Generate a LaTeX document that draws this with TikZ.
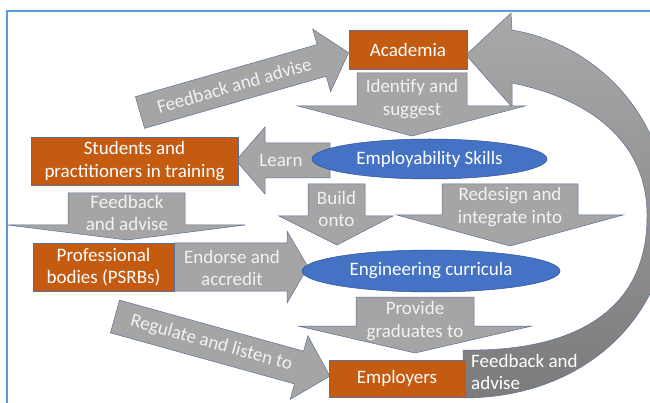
\documentclass[tikz,border=0pt]{standalone}
\usepackage{fontspec}
\setmainfont{Carlito}
\usetikzlibrary{shapes.geometric}
\definecolor{orangebox}{HTML}{C55A11}
\definecolor{arrowgray}{HTML}{A5A5A5}
\definecolor{edgeblue}{HTML}{5A7096}
\definecolor{ellblue}{HTML}{4472C4}
\definecolor{elledge}{HTML}{2F528F}
\definecolor{frameblue}{HTML}{5B9BD5}
\definecolor{txtwhite}{HTML}{F2F2F2}
\definecolor{bigtop}{HTML}{A9A9A9}
\definecolor{bigmid}{HTML}{A0A0A0}
\definecolor{bigbot}{HTML}{7B7B7B}
\begin{document}
\begin{tikzpicture}[x=1pt,y=-1pt,
  garrow/.style={fill=arrowgray, draw=edgeblue, line width=0.5pt, line join=miter},
  obox/.style={rectangle, fill=orangebox, draw=edgeblue, line width=0.5pt, text=white, font=\fontsize{19}{22.5}\selectfont, align=center, inner sep=0pt},
  bell/.style={ellipse, fill=ellblue, draw=elledge, line width=0.5pt, text=white, font=\fontsize{19}{22.5}\selectfont, inner sep=0pt},
  lbl/.style={text=txtwhite, font=\fontsize{19}{22.5}\selectfont, align=center, inner sep=0pt}]
\useasboundingbox (0,0) rectangle (650,403);
\begin{scope}
\clip (0,0) rectangle (650,403);
% frame
\draw[frameblue, line width=1.3pt] (7,404) -- (7,11) -- (651,11);
% big curved arrow (Employers -> Academia)
\path[draw=edgeblue, line width=0.5pt, top color=bigtop, middle color=bigmid, bottom color=bigbot]
  (512,30) -- (511,13) -- (466,55) -- (512,107) -- (512,83)
  .. controls (595,100) and (647,145) .. (647,215)
  .. controls (648,320) and (560,352) .. (463,350)
  -- (463,398)
  .. controls (590,398) and (670,310) .. (668,215)
  .. controls (668,120) and (600,45) .. (512,30) -- cycle;
% upper rotated arrow: Feedback and advise
\begin{scope}[shift={(140,112.5)}, rotate=16]
  \draw[garrow] (0,-16.5) -- (189,-16.5) -- (189,-32.5) -- (217,0) -- (189,32.5) -- (189,16.5) -- (0,16.5) -- cycle;
  \node[lbl, rotate=16] (tfbup) at (98,0) {Feedback and advise};
\end{scope}
% Identify and suggest
\draw[garrow] (357,73) -- (467,73) -- (467,106) -- (525,106) -- (412,136) -- (298,106) -- (357,106) -- cycle;
% Learn
\draw[garrow] (330,143) -- (265,143) -- (265,127) -- (236,160.5) -- (265,194) -- (265,178) -- (330,178) -- cycle;
% Feedback and advise (down)
\draw[garrow] (68,193) -- (185,193) -- (185,225) -- (245,225) -- (127,240) -- (8,225) -- (68,225) -- cycle;
% Build onto
\draw[garrow] (308,184) -- (365,184) -- (365,216) -- (393,216) -- (337,245) -- (279,216) -- (308,216) -- cycle;
% Redesign and integrate into
\draw[garrow] (442,184) -- (578,184) -- (578,215) -- (623,215) -- (510,246) -- (397,215) -- (442,215) -- cycle;
% Endorse and accredit
\draw[garrow] (174,243) -- (287,243) -- (287,231) -- (308,267) -- (287,303) -- (287,291) -- (174,291) -- cycle;
% Provide graduates to
\draw[garrow] (356,297) -- (474,297) -- (474,326) -- (532,326) -- (415,353) -- (298,326) -- (356,326) -- cycle;
% Regulate and listen to
\begin{scope}[shift={(115,316.5)}, rotate=-15.5]
  \draw[garrow] (0,-17) -- (191,-17) -- (191,-33) -- (223,0) -- (191,33) -- (191,17) -- (0,17) -- cycle;
  \node[lbl, rotate=-15.5] (treg) at (100,0) {Regulate and listen to};
\end{scope}
% boxes
\node[obox, minimum width=118pt, minimum height=39pt] (acad) at (408,49.5) {Academia};
\node[obox, minimum width=207pt, minimum height=48pt] (stud) at (134.5,161) {Students and\\practitioners in training};
\node[obox, minimum width=141pt, minimum height=48pt] (prof) at (103.5,267) {Professional\\bodies (PSRBs)};
\node[obox, minimum width=136pt, minimum height=37pt] (empl) at (397,378.5) {Employers};
% ellipses
\node[bell, minimum width=235pt, minimum height=40pt] (skills) at (429.5,159) {Employability Skills};
\node[bell, minimum width=258pt, minimum height=42pt] (curr) at (431,271) {Engineering curricula};
% arrow labels
\node[lbl] (tident) at (412,99) {Identify and\\suggest};
\node[lbl] (tlearn) at (281,160) {Learn};
\node[lbl] (tfbdown) at (127,213) {Feedback\\and advise};
\node[lbl] (tbuild) at (336.5,209) {Build\\onto};
\node[lbl] (tredes) at (510,207) {Redesign and\\integrate into};
\node[lbl] (tendor) at (232,268) {Endorse and\\accredit};
\node[lbl] (tprov) at (415,321) {Provide\\graduates to};
\node[lbl, align=left, anchor=west, text=white] (tfbbig) at (471,372) {Feedback and\\advise};
\end{scope}
\end{tikzpicture}
\end{document}
